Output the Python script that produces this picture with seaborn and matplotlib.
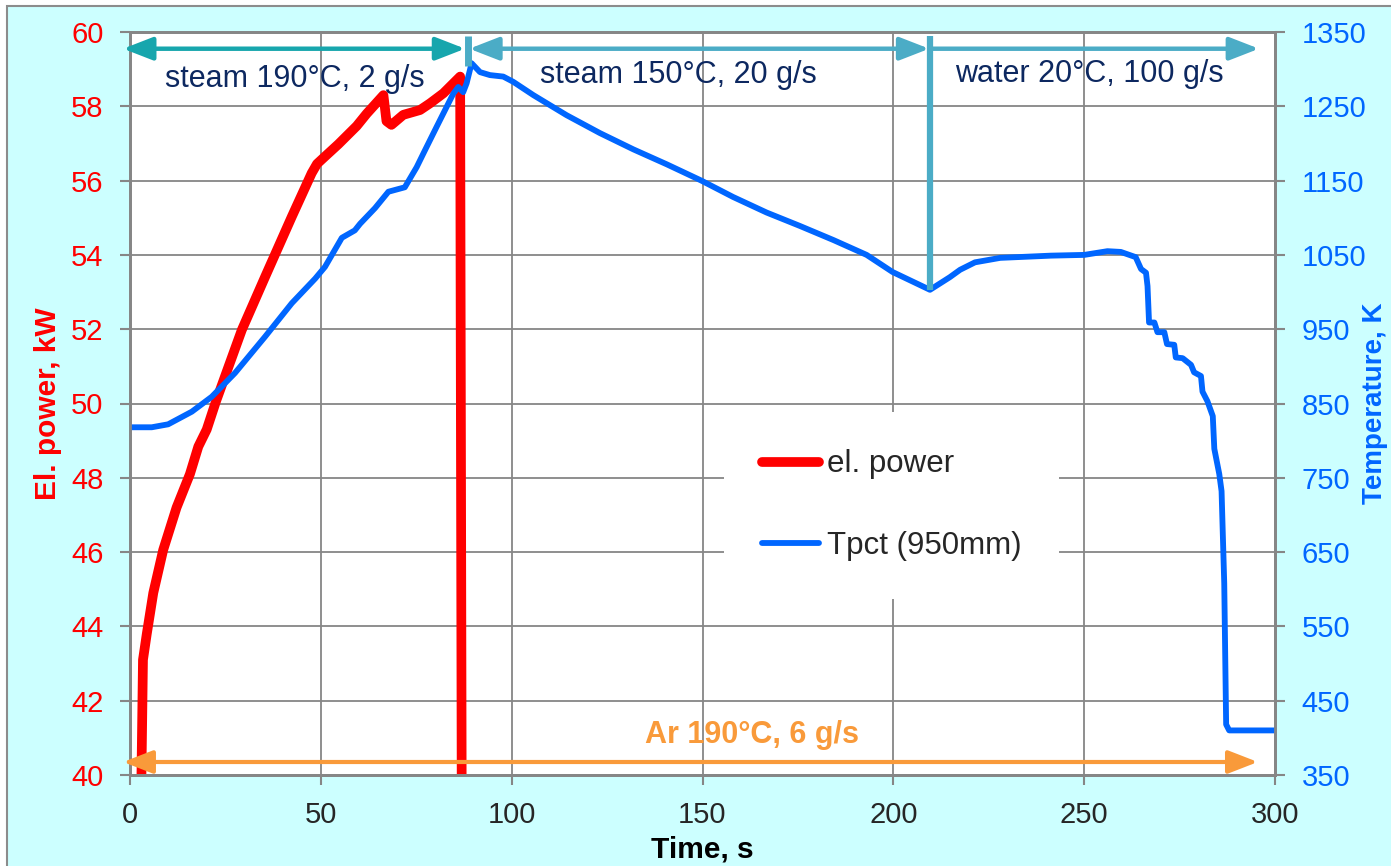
import matplotlib
matplotlib.use("Agg")
import matplotlib.pyplot as plt
import seaborn as sns
import pandas as pd
from matplotlib.patches import Rectangle
from matplotlib.lines import Line2D

# ---------------- data ----------------
power_time = [3.0, 3.4, 4.4, 6.1, 8.7, 12.2, 15.7, 17.9, 20.1, 22.5, 29.3, 35.4,
              42.4, 47.6, 49.0, 51.1, 54.6, 59.4, 62.0, 66.4, 67.2, 68.5, 71.6,
              76.0, 78.6, 82.1, 86.5, 86.9]
power_kw = [40.0, 43.1, 43.8, 44.9, 46.06, 47.2, 48.1, 48.84, 49.3, 50.05, 51.98,
            53.41, 55.03, 56.2, 56.45, 56.65, 56.98, 57.47, 57.8, 58.3, 57.6, 57.5,
            57.77, 57.9, 58.08, 58.35, 58.8, 40.0]

temp_time = [0, 5.7, 10, 16.2, 21.4, 27.5, 35.4, 42.4, 48.5, 51.1, 55.5, 58.9, 60.3,
             64.2, 67.7, 72.0, 75.1, 77.3, 80.3, 84.7, 86.0, 87.3, 88.2, 89.5, 91.7,
             94.3, 97.8, 100.4, 105.7, 114.4, 123.1, 131.9, 140.6, 149.7, 158.0,
             166.8, 175.5, 184.3, 193.0, 199.8, 209.6, 214.8, 217.5, 221.4, 228.0,
             241.3, 250.0, 256.1, 259.6, 263.5, 264.9, 266.2, 266.6, 267.0, 268.4,
             269.2, 271.0, 271.7, 273.6, 274.0, 275.8, 278.0, 278.8, 280.6, 281.0,
             282.3, 283.7, 284.1, 285.4, 286.0, 286.7, 287.2, 288.0, 300.0]
temp_k = [818, 818, 822, 839, 859, 891, 940, 985, 1018, 1034, 1073, 1083, 1092,
          1113, 1135, 1141, 1168, 1191, 1222, 1267, 1276, 1269, 1281, 1308, 1296,
          1292, 1290, 1283, 1265, 1238, 1214, 1192, 1172, 1150, 1128,
          1107, 1089, 1070, 1050, 1027, 1003, 1020, 1030, 1040, 1046,
          1049, 1050, 1055, 1054, 1047, 1031, 1026, 1008, 959, 959,
          946, 946, 930, 929, 912, 911, 902, 892, 887, 866,
          853, 833, 789, 755, 732, 608, 418, 410, 410]

x_ticks = [0, 50, 100, 150, 200, 250, 300]
power_ticks = [40, 42, 44, 46, 48, 50, 52, 54, 56, 58, 60]
temp_ticks = [350, 450, 550, 650, 750, 850, 950, 1050, 1150, 1250, 1350]

series_labels = ["el. power", "Tpct (950mm)"]
phase_labels = ["steam 190°C, 2 g/s", "steam 150°C, 20 g/s", "water 20°C, 100 g/s"]
phase_bounds = [88.5, 209.7]
argon_label = "Ar 190°C, 6 g/s"

# ---------------- style ----------------
sns.set_style("white")
plt.rcParams["font.family"] = ["Liberation Sans", "DejaVu Sans"]

RED = "#FF0000"
BLUE = "#0066FF"
GRID = "#868686"
TEAL1 = "#17A6AD"
TEAL2 = "#4BACC6"
ORANGE = "#F99A3A"
NAVY = "#0D2860"

W, H = 1391, 866
fig = plt.figure(figsize=(W / 100, H / 100), dpi=100, facecolor="white")
bg = Rectangle((7 / W, -0.1), 1.2, (1 - 6 / H) + 0.1,
               transform=fig.transFigure, facecolor="#CCFFFF",
               edgecolor="#8C8C8C", lw=1.5, zorder=-10)
fig.patches.append(bg)

ax = fig.add_axes([130 / W, 1 - 775 / H, 1145 / W, 743 / H])
ax.set_facecolor("white")
ax2 = ax.twinx()

df_p = pd.DataFrame({"t": power_time, "P": power_kw})
df_t = pd.DataFrame({"t": temp_time, "T": temp_k})
sns.lineplot(data=df_p, x="t", y="P", ax=ax, color=RED, lw=7, sort=False,
             estimator=None, legend=False)
sns.lineplot(data=df_t, x="t", y="T", ax=ax2, color=BLUE, lw=4.2, sort=False,
             estimator=None, legend=False)

ax.set_xlim(0, 300)
ax.set_ylim(40, 60)
ax2.set_ylim(350, 1350)
ax.set_xticks(x_ticks)
ax.set_yticks(power_ticks)
ax2.set_yticks(temp_ticks)

ax.grid(True, color=GRID, lw=1.3)
ax2.grid(False)
for a in (ax, ax2):
    for s in a.spines.values():
        s.set_color(GRID)
        s.set_linewidth(2)
ax.tick_params(axis="both", direction="out", length=7, width=1.5, color=GRID,
               labelsize=21, pad=12, left=True, bottom=True)
ax.tick_params(axis="y", labelcolor=RED)
ax2.tick_params(axis="y", direction="out", length=7, width=1.5, color=GRID,
                labelsize=21, pad=12, labelcolor=BLUE, right=True)

ax.set_xlabel("Time, s", fontsize=21.5, fontweight="bold", color="black")
ax.xaxis.set_label_coords(0.5, (775 - 836) / 743)
ax.set_ylabel("El. power, kW", fontsize=21.5, fontweight="bold", color=RED)
ax.yaxis.set_label_coords((62 - 130) / 1145, 0.5)
ax2.set_ylabel("Temperature, K", fontsize=20, fontweight="bold", color=BLUE)
ax2.yaxis.set_label_coords((1362 - 130) / 1145, 0.5)

# ---------------- phase annotations ----------------
def arrow(x0, x1, y, style, color, lw):
    ax2.annotate("", xy=(x1, y), xytext=(x0, y), xycoords=ax.transData,
                 textcoords=ax.transData, annotation_clip=False,
                 arrowprops=dict(arrowstyle=style, color=color, lw=lw,
                                 shrinkA=0, shrinkB=0, mutation_scale=20))

arrow(-1.8, 87.8, 59.55, "<|-|>,head_length=0.9,head_width=0.35", TEAL1, 3.2)
arrow(88.9, 209.4, 59.55, "<|-|>,head_length=0.9,head_width=0.35", TEAL2, 3.2)
arrow(209.7, 295.8, 59.55, "-|>,head_length=0.9,head_width=0.35", TEAL2, 3.2)
arrow(-1.8, 295.5, 40.35, "<|-|>,head_length=0.9,head_width=0.35", ORANGE, 3.0)

ax2.plot([phase_bounds[0]] * 2, [59.08, 59.9], transform=ax.transData,
         color=TEAL2, lw=5, solid_capstyle="butt", clip_on=False)
ax2.plot([phase_bounds[1]] * 2, [53.05, 59.9], transform=ax.transData,
         color=TEAL2, lw=4.5, solid_capstyle="butt", clip_on=False)

ax2.text(43.2, 58.73, phase_labels[0], transform=ax.transData, ha="center",
         va="center", fontsize=22, color=NAVY)
ax2.text(143.6, 58.84, phase_labels[1], transform=ax.transData, ha="center",
         va="center", fontsize=22, color=NAVY)
ax2.text(251.3, 58.87, phase_labels[2], transform=ax.transData, ha="center",
         va="center", fontsize=22, color=NAVY)
ax2.text(163.0, 41.08, argon_label, transform=ax.transData, ha="center",
         va="center", fontsize=22, fontweight="bold", color=ORANGE)

# ---------------- legend ----------------
handles = [Line2D([], [], color=RED, lw=7, solid_capstyle="round"),
           Line2D([], [], color=BLUE, lw=4.2, solid_capstyle="round")]
leg = ax2.legend(handles, series_labels, loc="upper left",
                 bbox_to_anchor=(724 / W, 1 - 412 / H), bbox_transform=fig.transFigure,
                 frameon=True, facecolor="white", edgecolor="none", framealpha=1,
                 fancybox=False, fontsize=22.5, handlelength=1.85, handletextpad=0.25,
                 labelspacing=1.65, borderpad=1.2, borderaxespad=0)

fig.savefig("out.png", dpi=100, facecolor=fig.get_facecolor())
